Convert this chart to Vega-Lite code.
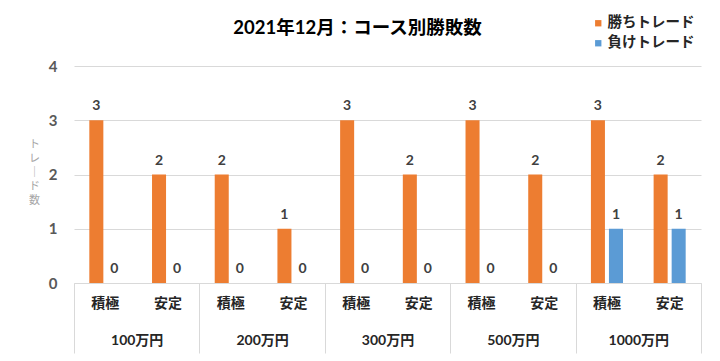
{
  "$schema": "https://vega.github.io/schema/vega-lite/v6.json",
  "width": 627,
  "height": 217,
  "autosize": {"type": "none"},
  "padding": {"left": 74, "top": 66, "right": 19, "bottom": 78},
  "background": "white",
  "config": {
    "view": {"stroke": null},
    "font": "Lato, Noto Sans CJK JP"
  },
  "title": {
    "text": "2021年12月：コース別勝敗数",
    "font": "Lato, Noto Sans CJK JP",
    "fontSize": 18.5,
    "fontWeight": "bold",
    "color": "#000000",
    "anchor": "middle",
    "frame": "group",
    "baseline": "alphabetic",
    "dx": -30,
    "dy": 149,
    "offset": 0
  },
  "data": {
    "values": [
      {"course": "100万円 積極", "group": "100万円", "sub": "積極", "series": "勝ちトレード", "value": 3},
      {"course": "100万円 積極", "group": "100万円", "sub": "積極", "series": "負けトレード", "value": 0},
      {"course": "100万円 安定", "group": "100万円", "sub": "安定", "series": "勝ちトレード", "value": 2},
      {"course": "100万円 安定", "group": "100万円", "sub": "安定", "series": "負けトレード", "value": 0},
      {"course": "200万円 積極", "group": "200万円", "sub": "積極", "series": "勝ちトレード", "value": 2},
      {"course": "200万円 積極", "group": "200万円", "sub": "積極", "series": "負けトレード", "value": 0},
      {"course": "200万円 安定", "group": "200万円", "sub": "安定", "series": "勝ちトレード", "value": 1},
      {"course": "200万円 安定", "group": "200万円", "sub": "安定", "series": "負けトレード", "value": 0},
      {"course": "300万円 積極", "group": "300万円", "sub": "積極", "series": "勝ちトレード", "value": 3},
      {"course": "300万円 積極", "group": "300万円", "sub": "積極", "series": "負けトレード", "value": 0},
      {"course": "300万円 安定", "group": "300万円", "sub": "安定", "series": "勝ちトレード", "value": 2},
      {"course": "300万円 安定", "group": "300万円", "sub": "安定", "series": "負けトレード", "value": 0},
      {"course": "500万円 積極", "group": "500万円", "sub": "積極", "series": "勝ちトレード", "value": 3},
      {"course": "500万円 積極", "group": "500万円", "sub": "積極", "series": "負けトレード", "value": 0},
      {"course": "500万円 安定", "group": "500万円", "sub": "安定", "series": "勝ちトレード", "value": 2},
      {"course": "500万円 安定", "group": "500万円", "sub": "安定", "series": "負けトレード", "value": 0},
      {"course": "1000万円 積極", "group": "1000万円", "sub": "積極", "series": "勝ちトレード", "value": 3},
      {"course": "1000万円 積極", "group": "1000万円", "sub": "積極", "series": "負けトレード", "value": 1},
      {"course": "1000万円 安定", "group": "1000万円", "sub": "安定", "series": "勝ちトレード", "value": 2},
      {"course": "1000万円 安定", "group": "1000万円", "sub": "安定", "series": "負けトレード", "value": 1}
    ]
  },
  "resolve": {"scale": {"x": "independent"}, "axis": {"x": "independent"}},
  "layer": [
    {
      "encoding": {
        "x": {
          "field": "course",
          "type": "nominal",
          "sort": null,
          "scale": {"paddingInner": 0, "paddingOuter": 0},
          "axis": {
            "orient": "bottom",
            "title": null,
            "labelExpr": "split(datum.value, ' ')[1]",
            "labelAngle": 0,
            "labelFontSize": 14,
            "labelFontWeight": "bold",
            "labelColor": "#262626",
            "labelPadding": 13,
            "ticks": false,
            "tickSize": 0,
            "domain": true,
            "domainColor": "#d9d9d9",
            "domainWidth": 1,
            "grid": false
          }
        },
        "xOffset": {
          "field": "series",
          "type": "nominal",
          "sort": ["勝ちトレード", "負けトレード"],
          "scale": {"paddingInner": 0.222, "paddingOuter": 0.85}
        },
        "y": {
          "field": "value",
          "type": "quantitative",
          "scale": {"domain": [0, 4]},
          "axis": {
            "values": [0, 1, 2, 3, 4],
            "format": "d",
            "title": ["ト", "レ", "｜", "ド", "数"],
            "titleAngle": 0,
            "titleX": -40,
            "titleY": 72,
            "titleAlign": "center",
            "titleBaseline": "top",
            "titleFontSize": 11,
            "titleFontWeight": "normal",
            "titleColor": "#a6a6a6",
            "titleLineHeight": 14,
            "labelFontSize": 15,
            "labelFontWeight": "bold",
            "labelColor": "#595959",
            "labelPadding": 17,
            "ticks": false,
            "domain": false,
            "grid": true,
            "gridColor": "#d9d9d9",
            "gridWidth": 1
          }
        }
      },
      "layer": [
        {
          "mark": {"type": "bar"},
          "encoding": {
            "color": {
              "field": "series",
              "type": "nominal",
              "sort": ["勝ちトレード", "負けトレード"],
              "scale": {"domain": ["勝ちトレード", "負けトレード"], "range": ["#ED7D31", "#5B9BD5"]},
              "legend": {
                "title": null,
                "orient": "none",
                "legendX": 517,
                "legendY": -50,
                "symbolType": "square",
                "symbolSize": 40,
                "symbolStrokeWidth": 0,
                "labelFontSize": 14.5,
                "labelFontWeight": "bold",
                "labelColor": "#262626",
                "labelOffset": 2,
                "rowPadding": 5
              }
            }
          }
        },
        {
          "mark": {"type": "text", "dy": -10, "baseline": "alphabetic", "fontSize": 14, "fontWeight": "bold", "color": "#404040"},
          "encoding": {
            "text": {"field": "value", "type": "quantitative"}
          }
        }
      ]
    },
    {
      "mark": {"type": "bar", "opacity": 0},
      "encoding": {
        "x": {
          "field": "group",
          "type": "nominal",
          "sort": null,
          "scale": {"paddingInner": 0, "paddingOuter": 0},
          "axis": {
            "orient": "bottom",
            "title": null,
            "labelAngle": 0,
            "labelFontSize": 14,
            "labelFontWeight": "bold",
            "labelColor": "#262626",
            "ticks": true,
            "tickBand": "extent",
            "tickSize": 70,
            "tickColor": "#d9d9d9",
            "tickWidth": 1,
            "labelPadding": -20,
            "domain": false,
            "grid": false
          }
        },
        "y": {"field": "value", "type": "quantitative"}
      }
    }
  ]
}
